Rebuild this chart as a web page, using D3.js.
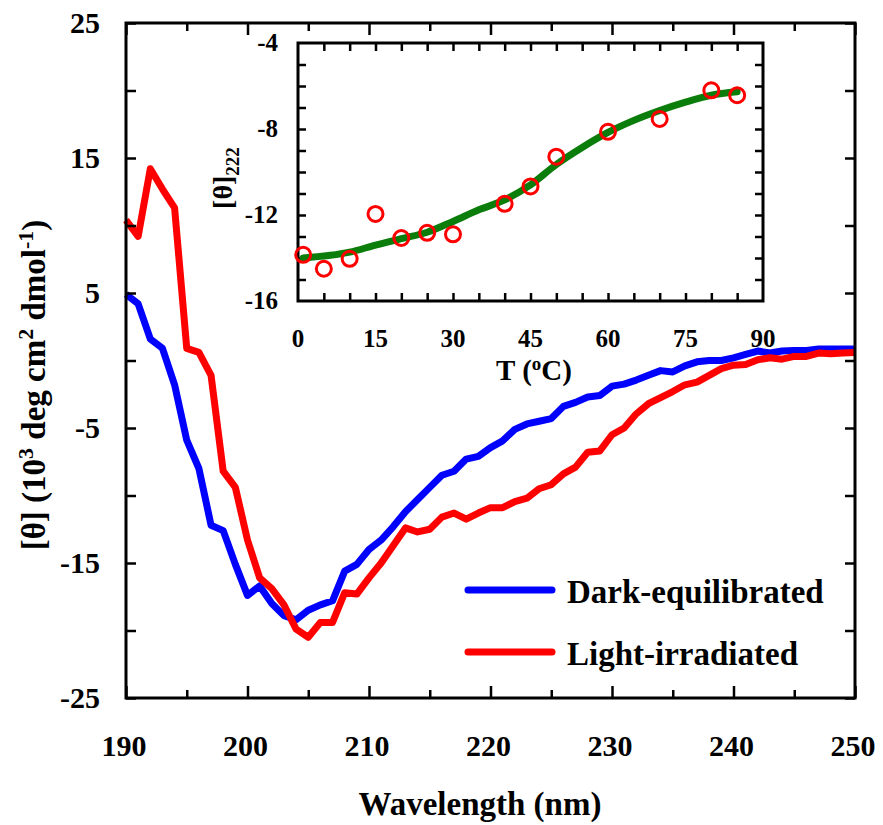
<!DOCTYPE html>
<html>
<head>
<meta charset="utf-8">
<script src="https://cdn.jsdelivr.net/npm/d3@7"></script>
<style>
  body { margin: 0; background: #fff; }
</style>
</head>
<body>
<div id="chart"></div>
<script>
/* CD spectra (main) + thermal melt at 222 nm (inset) */

const wavelength = [190,191,192,193,194,195,196,197,198,199,200,201,202,203,204,205,206,207,208,209,
    210,211,212,213,214,215,216,217,218,219,220,221,222,223,224,225,226,227,228,229,
    230,231,232,233,234,235,236,237,238,239,240,241,242,243,244,245,246,247,248,249,250];

const darkEquilibrated = [4.9,4.2,1.6,0.9,-1.8,-5.9,-8.0,-12.2,-12.6,-15.1,-17.4,-16.7,-18.0,-18.9,-19.2,-18.5,-18.1,-17.8,-15.6,-15.1,
    -14.0,-13.3,-12.3,-11.2,-10.3,-9.4,-8.5,-8.2,-7.3,-7.1,-6.45,-5.95,-5.1,-4.7,-4.5,-4.3,-3.4,-3.1,-2.7,-2.6,
    -1.9,-1.75,-1.45,-1.1,-0.75,-0.85,-0.4,-0.1,0.0,0.0,0.2,0.45,0.7,0.55,0.7,0.75,0.75,0.85,0.85,0.85,0.85];

const lightIrradiated = [10.4,9.2,14.2,12.7,11.3,0.9,0.6,-1.1,-8.2,-9.4,-13.3,-16.1,-16.9,-18.1,-19.9,-20.5,-19.4,-19.4,-17.2,-17.3,
    -16.1,-15.0,-13.7,-12.4,-12.7,-12.5,-11.6,-11.3,-11.75,-11.3,-10.9,-10.9,-10.45,-10.2,-9.5,-9.2,-8.4,-7.9,-6.8,-6.7,
    -5.5,-5.0,-3.95,-3.2,-2.75,-2.3,-1.8,-1.6,-1.1,-0.6,-0.35,-0.3,0.05,0.2,0.1,0.3,0.3,0.55,0.5,0.55,0.6];

// inset: measured points and fitted curve
const tempC = [1,5,10,15,20,25,30,40,45,50,60,70,80,85];
const theta222 = [-13.85,-14.5,-14.04,-11.95,-13.07,-12.83,-12.9,-11.48,-10.67,-9.29,-8.13,-7.53,-6.2,-6.43];
const fitT = [1,10,15,20,25,30,35,40,45,50,55,60,65,70,75,80,85];
const fitTheta = [-14.0,-13.73,-13.4,-13.1,-12.8,-12.3,-11.76,-11.3,-10.6,-9.65,-8.86,-8.16,-7.6,-7.14,-6.75,-6.43,-6.27];

const xTickLabels = [190,200,210,220,230,240,250];
const yTickLabels = [25,15,5,-5,-15,-25];
const insetXTickLabels = [0,15,30,45,60,75,90];
const insetYTickLabels = [-4,-8,-12,-16];

const width = 883, height = 825;
const margin = { top: 23, right: 28, bottom: 127, left: 126 };
const serif = "'Liberation Serif', Tinos, 'Times New Roman', 'DejaVu Serif', serif";

let svg = d3.select("#chart")
    .append("svg")
    .attr("width", width)
    .attr("height", height)
    .attr("font-family", serif)
    .attr("font-weight", "bold");

let x = d3.scaleLinear()
    .domain([190, 250])
    .range([margin.left, width - margin.right]);

let y = d3.scaleLinear()
    .domain([-25, 25])
    .range([height - margin.bottom, margin.top]);

// inward ticks on all four sides of a box
function boxTicks(g, sx, sy, xt, yt) {
    const [x0, x1] = sx.range(), [y0, y1] = sy.range();
    for (const t of xt) {
        g.append("g").attr("transform", `translate(0,${y0})`)
            .call(d3.axisBottom(sx).tickValues(t.values).tickSize(-t.len).tickFormat(""));
        g.append("g").attr("transform", `translate(0,${y1})`)
            .call(d3.axisTop(sx).tickValues(t.values).tickSize(-t.len).tickFormat(""));
    }
    for (const t of yt) {
        g.append("g").attr("transform", `translate(${x0},0)`)
            .call(d3.axisLeft(sy).tickValues(t.values).tickSize(-t.len).tickFormat(""));
        g.append("g").attr("transform", `translate(${x1},0)`)
            .call(d3.axisRight(sy).tickValues(t.values).tickSize(-t.len).tickFormat(""));
    }
    g.selectAll(".domain").remove();
    g.selectAll(".tick line").attr("stroke", "#000").attr("stroke-width", 2.5);
    g.append("rect")
        .attr("x", x0).attr("y", y1)
        .attr("width", x1 - x0).attr("height", y0 - y1)
        .attr("fill", "none").attr("stroke", "#000").attr("stroke-width", 3);
}

/* main plot */
let main = svg.append("g");

const lineMain = d3.line()
    .x((d, i) => x(wavelength[i]))
    .y(d => y(d));

main.append("path")
    .datum(darkEquilibrated)
    .attr("d", lineMain)
    .attr("fill", "none").attr("stroke", "#0000ff")
    .attr("stroke-width", 7).attr("stroke-linejoin", "round");

main.append("path")
    .datum(lightIrradiated)
    .attr("d", lineMain)
    .attr("fill", "none").attr("stroke", "#ff0000")
    .attr("stroke-width", 7).attr("stroke-linejoin", "round");

boxTicks(main, x, y,
    [{ values: [195,205,215,225,235,245], len: 8 }, { values: xTickLabels, len: 12 }],
    [{ values: [20,10,0,-10,-20], len: 10 }, { values: yTickLabels, len: 10 }]);

main.selectAll(".xlab")
    .data(xTickLabels)
    .join("text")
    .attr("x", d => x(d) - 2)
    .attr("y", 756)
    .attr("text-anchor", "middle")
    .attr("font-size", 30)
    .text(d => d);

main.selectAll(".ylab")
    .data(yTickLabels)
    .join("text")
    .attr("x", 100)
    .attr("y", d => y(d) + 10)
    .attr("text-anchor", "end")
    .attr("font-size", 30)
    .text(d => d);

main.append("text")
    .attr("x", 480).attr("y", 815)
    .attr("text-anchor", "middle")
    .attr("font-size", 33)
    .text("Wavelength (nm)");

let yTitle = main.append("text")
    .attr("transform", "translate(45,385) rotate(-90)")
    .attr("text-anchor", "middle")
    .attr("font-size", 33);
yTitle.append("tspan").text("[θ] (10");
yTitle.append("tspan").attr("dy", -12).attr("font-size", 22).text("3");
yTitle.append("tspan").attr("dy", 12).text(" deg cm");
yTitle.append("tspan").attr("dy", -12).attr("font-size", 22).text("2");
yTitle.append("tspan").attr("dy", 12).text(" dmol");
yTitle.append("tspan").attr("dy", -12).attr("font-size", 22).text("-1");
yTitle.append("tspan").attr("dy", 12).text(")");

// legend
const legendItems = [
    { name: "Dark-equilibrated", color: "#0000ff" },
    { name: "Light-irradiated", color: "#ff0000" }
];
let legend = main.selectAll(".legend")
    .data(legendItems)
    .join("g")
    .attr("transform", (d, i) => `translate(0,${590 + i * 62})`);
legend.append("line")
    .attr("x1", 468).attr("x2", 552)
    .attr("stroke", d => d.color).attr("stroke-width", 7).attr("stroke-linecap", "round");
legend.append("text")
    .attr("x", 567).attr("y", 13)
    .attr("font-size", 33)
    .text(d => d.name);

/* inset */
let ix = d3.scaleLinear().domain([0, 90]).range([298, 763]);
let iy = d3.scaleLinear().domain([-16, -4]).range([301, 43]);

let inset = svg.append("g");
inset.append("rect")
    .attr("x", 298).attr("y", 43).attr("width", 465).attr("height", 258)
    .attr("fill", "#fff");

boxTicks(inset, ix, iy,
    [{ values: d3.range(5, 90, 5), len: 8 }],
    [{ values: [-15,-14,-13,-12,-11,-10,-9,-8,-7,-6,-5], len: 8 }]);

inset.append("path")
    .datum(fitTheta)
    .attr("d", d3.line().x((d, i) => ix(fitT[i])).y(d => iy(d)).curve(d3.curveMonotoneX))
    .attr("fill", "none").attr("stroke", "#0a7d0a")
    .attr("stroke-width", 7).attr("stroke-linecap", "round");

inset.selectAll(".pt")
    .data(theta222)
    .join("circle")
    .attr("cx", (d, i) => ix(tempC[i]))
    .attr("cy", d => iy(d))
    .attr("r", 7.5)
    .attr("fill", "none").attr("stroke", "#ff0000").attr("stroke-width", 3);

inset.selectAll(".ixlab")
    .data(insetXTickLabels)
    .join("text")
    .attr("x", d => ix(d))
    .attr("y", 347)
    .attr("text-anchor", "middle")
    .attr("font-size", 25)
    .text(d => d);

inset.selectAll(".iylab")
    .data(insetYTickLabels)
    .join("text")
    .attr("x", 278)
    .attr("y", d => iy(d) + 8)
    .attr("text-anchor", "end")
    .attr("font-size", 25)
    .text(d => d);

let tTitle = inset.append("text")
    .attr("x", 534).attr("y", 380)
    .attr("text-anchor", "middle")
    .attr("font-size", 29);
tTitle.append("tspan").text("T (");
tTitle.append("tspan").attr("dy", -10).attr("font-size", 19).text("o");
tTitle.append("tspan").attr("dy", 10).text("C)");

let thTitle = inset.append("text")
    .attr("transform", "translate(232,178) rotate(-90)")
    .attr("text-anchor", "middle")
    .attr("font-size", 28);
thTitle.append("tspan").text("[θ]");
thTitle.append("tspan").attr("dy", 7).attr("font-size", 19).text("222");
</script>
</body>
</html>
